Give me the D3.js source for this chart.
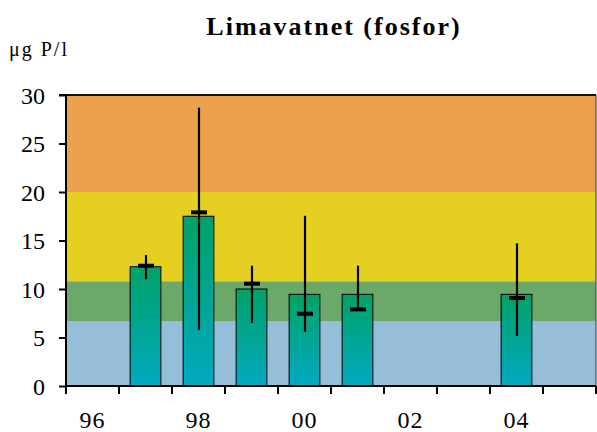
<!DOCTYPE html>
<html>
<head>
<meta charset="utf-8">
<script src="https://cdn.jsdelivr.net/npm/d3@7"></script>
</head>
<body style="margin:0">
<svg id="svg" width="597" height="432"></svg>
<script>
// years on the x axis (one band each), only every other one labelled
let years = ['96', '97', '98', '99', '00', '01', '02', '03', '04', '05'];
let tickLabels = ['96', '98', '00', '02', '04'];

// bars (value), marker (mean) and min/max whiskers
let barYears = ['97', '98', '99', '00', '01', '04'];
let barValues = [12.3, 17.5, 10.0, 9.45, 9.45, 9.45];
let meanValues = [12.4, 17.9, 10.55, 7.45, 7.9, 9.07];
let minValues = [11.0, 5.8, 6.5, 5.6, 7.9, 5.15];
let maxValues = [13.5, 28.7, 12.4, 17.55, 12.4, 14.7];

// class limits (background bands)
let classLimits = [0, 6.7, 10.8, 20, 30];
let classColors = ['#96bed8', '#6aa96a', '#e5d021', '#eca14c'];

let yTicks = [0, 5, 10, 15, 20, 25, 30];

let margin = {top: 95, left: 66, right: 1, bottom: 46};
let svgWidth = 597, svgHeight = 432;
let width = svgWidth - margin.left - margin.right;
let height = svgHeight - margin.top - margin.bottom;
let serif = 'Liberation Serif';

let svg = d3.select('#svg');

let defs = svg.append('defs');
let grad = defs.append('linearGradient')
  .attr('id', 'barGrad')
  .attr('x1', 0).attr('y1', 0).attr('x2', 0).attr('y2', 1);
grad.append('stop').attr('offset', '0%').attr('stop-color', '#00a268');
grad.append('stop').attr('offset', '100%').attr('stop-color', '#02a9c0');

let g = svg.append('g')
  .attr('transform', `translate(${margin.left},${margin.top})`);

let x = d3.scaleBand()
  .domain(years)
  .range([0, width]);

let y = d3.scaleLinear()
  .domain([0, 30])
  .range([height, 0]);

// background class bands
g.append('g').selectAll('rect')
  .data(classColors)
  .enter()
  .append('rect')
  .attr('x', 0)
  .attr('width', width)
  .attr('y', (d, i) => y(classLimits[i + 1]))
  .attr('height', (d, i) => y(classLimits[i]) - y(classLimits[i + 1]))
  .attr('fill', d => d);

// bars
let barW = x.bandwidth() * 0.58;
let bars = barYears.map((d, i) => ({
  year: d, val: barValues[i], mean: meanValues[i], min: minValues[i], max: maxValues[i]
}));

g.append('g').selectAll('rect')
  .data(bars)
  .enter()
  .append('rect')
  .attr('x', d => x(d.year) + (x.bandwidth() - barW) / 2)
  .attr('width', barW)
  .attr('y', d => y(d.val))
  .attr('height', d => y(0) - y(d.val))
  .attr('fill', 'url(#barGrad)')
  .attr('stroke', '#000')
  .attr('stroke-width', 1);

// whiskers
let gErr = g.append('g');
gErr.selectAll('line.range')
  .data(bars)
  .enter()
  .append('line')
  .attr('class', 'range')
  .attr('x1', d => x(d.year) + x.bandwidth() / 2 + 0.5)
  .attr('x2', d => x(d.year) + x.bandwidth() / 2 + 0.5)
  .attr('y1', d => y(d.max))
  .attr('y2', d => y(d.min))
  .attr('stroke', '#000')
  .attr('stroke-width', 2.2);

gErr.selectAll('line.mean')
  .data(bars)
  .enter()
  .append('line')
  .attr('class', 'mean')
  .attr('x1', d => x(d.year) + x.bandwidth() / 2 - 7.5)
  .attr('x2', d => x(d.year) + x.bandwidth() / 2 + 8.5)
  .attr('y1', d => y(d.mean))
  .attr('y2', d => y(d.mean))
  .attr('stroke', '#000')
  .attr('stroke-width', 4);

// frame top and right
g.append('line')
  .attr('x1', 0).attr('x2', width)
  .attr('y1', 0).attr('y2', 0)
  .attr('stroke', '#111').attr('stroke-width', 2);
g.append('line')
  .attr('x1', width).attr('x2', width)
  .attr('y1', 0).attr('y2', height)
  .attr('stroke', '#333').attr('stroke-width', 1);

// y axis
let yAxis = d3.axisLeft(y)
  .tickValues(yTicks)
  .tickSize(7)
  .tickPadding(14)
  .tickFormat(d3.format('d'));
let gY = g.append('g').call(yAxis).attr('font-family', serif).attr('font-size', 24);
gY.select('.domain').attr('stroke-width', 2).attr('d', `M-7,0H0V${height}`);
gY.selectAll('.tick line').attr('stroke-width', 2);
gY.selectAll('.tick text')
  .attr('dy', '0.34em');

// x axis: ticks at band boundaries
let edges = years.map(d => x(d)).concat([width]);
let gX = g.append('g').attr('transform', `translate(0,${height})`);
gX.append('line')
  .attr('x1', 0).attr('x2', width)
  .attr('y1', 0).attr('y2', 0)
  .attr('stroke', '#000').attr('stroke-width', 2);
gX.selectAll('line.tick')
  .data(edges)
  .enter()
  .append('line')
  .attr('class', 'tick')
  .attr('x1', d => d).attr('x2', d => d)
  .attr('y1', 0).attr('y2', 8)
  .attr('stroke', '#000').attr('stroke-width', 2);
gX.selectAll('text')
  .data(tickLabels)
  .enter()
  .append('text')
  .attr('x', d => x(d) + x.bandwidth() / 2)
  .attr('y', 42)
  .attr('text-anchor', 'middle')
  .attr('font-family', serif)
  .attr('font-size', 24)
  .attr('letter-spacing', 1)
  .text(d => d);

// title and unit
svg.append('text')
  .attr('x', 334)
  .attr('y', 35)
  .attr('text-anchor', 'middle')
  .attr('font-family', serif)
  .attr('font-size', 26)
  .attr('font-weight', 'bold')
  .attr('letter-spacing', 2)
  .text('Limavatnet (fosfor)');

svg.append('text')
  .attr('x', 9)
  .attr('y', 56)
  .attr('font-family', serif)
  .attr('font-size', 20)
  .attr('letter-spacing', 2)
  .text('μg P/l');
</script>
</body>
</html>
